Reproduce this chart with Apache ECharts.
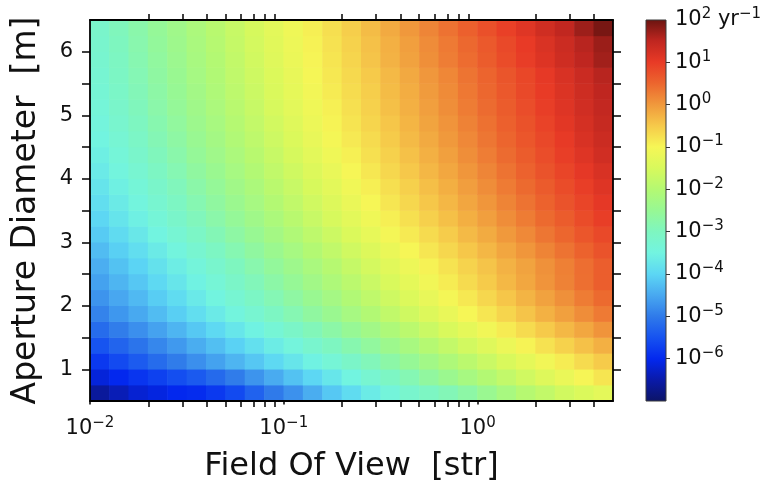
<!DOCTYPE html>
<html>
<head>
<meta charset="utf-8">
<title>Rate vs field of view and aperture</title>
<script src="https://cdn.jsdelivr.net/npm/echarts@6/dist/echarts.min.js"></script>
<style>
  html, body { margin: 0; padding: 0; background: #ffffff; }
  #chart { width: 769px; height: 481px; }
</style>
</head>
<body>
<div id="chart"></div>
<script>
// Field of view cell centres, log10(str)
const fovExponents = [-1.95, -1.85, -1.75, -1.65, -1.55, -1.45, -1.35, -1.25, -1.15, -1.05,
  -0.95, -0.85, -0.75, -0.65, -0.55, -0.45, -0.35, -0.25, -0.15, -0.05,
  0.05, 0.15, 0.25, 0.35, 0.45, 0.55, 0.65];

// Aperture diameter cell centres, m
const apertures = [0.625, 0.875, 1.125, 1.375, 1.625, 1.875, 2.125, 2.375, 2.625, 2.875,
  3.125, 3.375, 3.625, 3.875, 4.125, 4.375, 4.625, 4.875, 5.125, 5.375,
  5.625, 5.875, 6.125, 6.375];

// log10(rate / yr^-1), one row per aperture, one column per field of view
const rateExponents = [
  [-6.60,-6.40,-6.20,-6.10,-6.00,-5.95,-5.80,-5.60,-5.30,-5.00,-4.75,-4.45,-4.15,-3.90,-3.65,-3.40,-3.20,-3.05,-2.90,-2.70,-2.45,-2.20,-1.97,-1.80,-1.60,-1.45,-1.30],
  [-6.15,-6.00,-5.85,-5.70,-5.55,-5.40,-5.20,-4.98,-4.72,-4.47,-4.22,-3.98,-3.74,-3.50,-3.27,-3.06,-2.86,-2.63,-2.43,-2.22,-2.02,-1.81,-1.61,-1.40,-1.20,-0.99,-0.81],
  [-5.80,-5.59,-5.39,-5.18,-4.98,-4.77,-4.57,-4.36,-4.16,-3.95,-3.75,-3.54,-3.34,-3.13,-2.93,-2.72,-2.52,-2.31,-2.11,-1.90,-1.70,-1.49,-1.29,-1.08,-0.89,-0.70,-0.52],
  [-5.48,-5.27,-5.07,-4.86,-4.66,-4.45,-4.25,-4.04,-3.84,-3.63,-3.43,-3.22,-3.02,-2.81,-2.61,-2.40,-2.20,-1.99,-1.79,-1.58,-1.38,-1.17,-0.97,-0.78,-0.60,-0.42,-0.24],
  [-5.18,-4.97,-4.77,-4.56,-4.36,-4.15,-3.95,-3.74,-3.54,-3.33,-3.13,-2.92,-2.72,-2.51,-2.31,-2.10,-1.90,-1.69,-1.49,-1.28,-1.08,-0.88,-0.70,-0.51,-0.33,-0.15,0.04],
  [-4.90,-4.69,-4.49,-4.28,-4.08,-3.87,-3.67,-3.46,-3.26,-3.05,-2.85,-2.64,-2.44,-2.23,-2.03,-1.82,-1.62,-1.41,-1.21,-1.00,-0.82,-0.63,-0.45,-0.26,-0.08,0.11,0.29],
  [-4.72,-4.51,-4.31,-4.10,-3.90,-3.69,-3.49,-3.28,-3.08,-2.87,-2.67,-2.46,-2.26,-2.05,-1.85,-1.64,-1.44,-1.23,-1.03,-0.84,-0.66,-0.47,-0.29,-0.10,0.08,0.27,0.45],
  [-4.57,-4.36,-4.16,-3.95,-3.75,-3.54,-3.34,-3.13,-2.93,-2.72,-2.52,-2.31,-2.11,-1.90,-1.70,-1.49,-1.29,-1.08,-0.89,-0.70,-0.52,-0.33,-0.15,0.04,0.22,0.40,0.58],
  [-4.43,-4.22,-4.02,-3.81,-3.61,-3.40,-3.20,-2.99,-2.79,-2.58,-2.38,-2.17,-1.97,-1.76,-1.56,-1.35,-1.15,-0.95,-0.79,-0.61,-0.45,-0.27,-0.11,0.07,0.24,0.41,0.58],
  [-4.28,-4.07,-3.87,-3.66,-3.46,-3.25,-3.05,-2.84,-2.64,-2.43,-2.23,-2.02,-1.82,-1.61,-1.41,-1.20,-1.00,-0.82,-0.66,-0.48,-0.32,-0.14,0.02,0.20,0.36,0.54,0.71],
  [-4.12,-3.91,-3.71,-3.50,-3.30,-3.09,-2.89,-2.68,-2.48,-2.27,-2.07,-1.86,-1.66,-1.45,-1.25,-1.04,-0.87,-0.70,-0.53,-0.35,-0.19,-0.01,0.15,0.33,0.49,0.67,0.83],
  [-3.98,-3.77,-3.57,-3.36,-3.16,-2.95,-2.75,-2.54,-2.34,-2.13,-1.93,-1.72,-1.52,-1.31,-1.11,-0.92,-0.75,-0.58,-0.41,-0.23,-0.07,0.11,0.27,0.45,0.61,0.79,0.95],
  [-3.87,-3.66,-3.46,-3.25,-3.05,-2.84,-2.64,-2.43,-2.23,-2.02,-1.82,-1.61,-1.41,-1.20,-1.00,-0.82,-0.66,-0.48,-0.32,-0.14,0.02,0.20,0.36,0.54,0.71,0.87,1.04],
  [-3.77,-3.56,-3.36,-3.15,-2.95,-2.74,-2.54,-2.33,-2.13,-1.92,-1.72,-1.51,-1.31,-1.10,-0.92,-0.74,-0.58,-0.40,-0.23,-0.06,0.11,0.28,0.45,0.62,0.79,0.95,1.12],
  [-3.67,-3.46,-3.26,-3.05,-2.85,-2.64,-2.44,-2.23,-2.03,-1.82,-1.62,-1.41,-1.21,-1.00,-0.83,-0.66,-0.49,-0.32,-0.15,0.02,0.19,0.36,0.53,0.71,0.87,1.04,1.20],
  [-3.58,-3.37,-3.17,-2.96,-2.76,-2.55,-2.35,-2.14,-1.94,-1.73,-1.53,-1.32,-1.12,-0.93,-0.76,-0.59,-0.42,-0.24,-0.08,0.10,0.26,0.44,0.60,0.78,0.95,1.12,1.29],
  [-3.50,-3.29,-3.09,-2.88,-2.68,-2.47,-2.27,-2.06,-1.86,-1.65,-1.45,-1.24,-1.04,-0.86,-0.70,-0.52,-0.35,-0.18,-0.01,0.16,0.33,0.50,0.67,0.84,1.01,1.19,1.35],
  [-3.43,-3.22,-3.02,-2.81,-2.61,-2.40,-2.20,-1.99,-1.79,-1.58,-1.38,-1.17,-0.97,-0.80,-0.63,-0.47,-0.30,-0.12,0.04,0.22,0.38,0.56,0.72,0.90,1.07,1.24,1.41],
  [-3.37,-3.16,-2.96,-2.75,-2.55,-2.34,-2.14,-1.93,-1.73,-1.52,-1.32,-1.11,-0.93,-0.75,-0.59,-0.41,-0.24,-0.07,0.10,0.27,0.44,0.61,0.78,0.95,1.12,1.29,1.45],
  [-3.32,-3.11,-2.91,-2.70,-2.50,-2.29,-2.09,-1.88,-1.68,-1.47,-1.27,-1.06,-0.88,-0.71,-0.55,-0.37,-0.21,-0.03,0.13,0.31,0.48,0.65,0.82,0.99,1.16,1.33,1.50],
  [-3.28,-3.07,-2.87,-2.66,-2.46,-2.25,-2.05,-1.84,-1.64,-1.43,-1.23,-1.02,-0.85,-0.68,-0.51,-0.34,-0.17,0.01,0.17,0.35,0.51,0.69,0.85,1.03,1.19,1.37,1.54],
  [-3.24,-3.03,-2.83,-2.62,-2.42,-2.21,-2.01,-1.80,-1.60,-1.39,-1.19,-0.98,-0.81,-0.63,-0.45,-0.27,-0.10,0.09,0.26,0.43,0.60,0.79,0.96,1.14,1.32,1.50,1.67],
  [-3.20,-2.99,-2.79,-2.58,-2.38,-2.17,-1.97,-1.76,-1.56,-1.35,-1.15,-0.95,-0.78,-0.60,-0.42,-0.24,-0.07,0.12,0.29,0.47,0.64,0.83,1.00,1.18,1.35,1.54,1.71],
  [-3.17,-2.96,-2.76,-2.55,-2.35,-2.14,-1.94,-1.73,-1.53,-1.32,-1.12,-0.92,-0.74,-0.55,-0.37,-0.18,0.00,0.19,0.37,0.56,0.74,0.93,1.11,1.30,1.48,1.70,1.92]
];

// Axis ticks
const fovRange = [0.01, 5];
const fovMajorTicks = [0.01, 0.1, 1];
const fovMinorTicks = [0.02, 0.03, 0.04, 0.05, 0.06, 0.07, 0.08, 0.09,
  0.2, 0.3, 0.4, 0.5, 0.6, 0.7, 0.8, 0.9, 2, 3, 4];
const apertureRange = [0.5, 6.5];
const apertureLabels = [1, 2, 3, 4, 5, 6];
const apertureTicks = [1, 1.5, 2, 2.5, 3, 3.5, 4, 4.5, 5, 5.5, 6];
const rateRange = [-7, 2];
const rateLabels = [-6, -5, -4, -3, -2, -1, 0, 1, 2];
const rateTicks = [-6, -5, -4, -3, -2, -1, 0, 1];

// Colour scale, from 10^-7 to 10^2 in half-decade steps
const rateColors = ['#0c1466', '#0a1aa8', '#0328ee', '#1652f0', '#2f7aea', '#48a8f0',
  '#5cd6f4', '#72f4e0', '#7ef6c0', '#97f894', '#b4f972', '#d8f95c', '#f6f656',
  '#f6c94a', '#f0983c', '#ec652e', '#e83a26', '#bf2620', '#6a1410'];

const FONT = 'DejaVu Sans';
const INK = '#111111';
const MINUS = '\u2212';

function expText(n) { return n < 0 ? MINUS + Math.abs(n) : String(n); }
function powLabel(n) { return '{b|10}{s|' + expText(n) + '}'; }

const powRich = {
  b: { fontFamily: FONT, fontSize: 21, lineHeight: 26, color: INK },
  s: { fontFamily: FONT, fontSize: 15, lineHeight: 20, verticalAlign: 'top', color: INK }
};

// Cell edges halfway between neighbouring centres
function cellEdges(centres) {
  return centres.map(function (c, i) {
    const prev = i > 0 ? centres[i - 1] : 2 * c - centres[i + 1];
    const next = i < centres.length - 1 ? centres[i + 1] : 2 * c - centres[i - 1];
    return [(prev + c) / 2, (c + next) / 2];
  });
}

const fovEdges = cellEdges(fovExponents);
const apertureEdges = cellEdges(apertures);
const cells = [];
rateExponents.forEach(function (row, r) {
  row.forEach(function (v, c) {
    cells.push([fovEdges[c][0], fovEdges[c][1], apertureEdges[r][0], apertureEdges[r][1], v]);
  });
});

function renderCell(params, api) {
  const lo = api.coord([api.value(0), api.value(2)]);
  const hi = api.coord([api.value(1), api.value(3)]);
  const cs = params.coordSys;
  const shape = echarts.graphic.clipRectByRect(
    { x: lo[0] - 0.3, y: hi[1] - 0.3, width: hi[0] - lo[0] + 0.6, height: lo[1] - hi[1] + 0.6 },
    { x: cs.x, y: cs.y, width: cs.width, height: cs.height }
  );
  return shape && { type: 'rect', shape: shape, style: { fill: api.visual('color') } };
}

function renderColorbar(params, api) {
  const cs = params.coordSys;
  const stops = rateColors.map(function (c, i) {
    return { offset: i / (rateColors.length - 1), color: c };
  });
  return {
    type: 'rect',
    shape: { x: cs.x, y: cs.y, width: cs.width, height: cs.height },
    style: {
      fill: new echarts.graphic.LinearGradient(0, 1, 0, 0, stops),
      stroke: '#3a3a3a',
      lineWidth: 1
    }
  };
}

const log10 = function (v) { return Math.log10(v); };
const frameLine = { show: true, onZero: false, lineStyle: { color: '#000', width: 1.8 } };

const option = {
  backgroundColor: '#ffffff',
  animation: false,
  grid: [
    { left: 90, top: 20, width: 523, height: 381, outerBoundsMode: 'none' },
    { left: 646, top: 20, width: 20, height: 381, outerBoundsMode: 'none' }
  ],
  xAxis: [
    { // bottom: decade labels
      type: 'value', gridIndex: 0, position: 'bottom', z: 5,
      min: log10(fovRange[0]), max: log10(fovRange[1]),
      axisLine: frameLine,
      axisTick: { show: true, customValues: fovMajorTicks.map(log10), length: 3.5,
        lineStyle: { color: '#000', width: 1.5 } },
      axisLabel: { show: true, customValues: fovMajorTicks.map(log10), margin: 15,
        formatter: function (v) { return powLabel(Math.round(v)); }, rich: powRich },
      splitLine: { show: false },
      name: 'Field Of View  [str]', nameLocation: 'middle', nameGap: 49,
      nameTextStyle: { fontFamily: FONT, fontSize: 32, color: INK, lineHeight: 34 }
    },
    { // bottom: minor ticks
      type: 'value', gridIndex: 0, position: 'bottom', z: 5,
      min: log10(fovRange[0]), max: log10(fovRange[1]),
      axisLine: { show: false, onZero: false },
      axisTick: { show: true, customValues: fovMinorTicks.map(log10), length: 6,
        lineStyle: { color: '#000', width: 1.5 } },
      axisLabel: { show: false },
      splitLine: { show: false }
    },
    { // top frame with minor ticks
      type: 'value', gridIndex: 0, position: 'top', z: 5,
      min: log10(fovRange[0]), max: log10(fovRange[1]),
      axisLine: frameLine,
      axisTick: { show: true, customValues: fovMinorTicks.map(log10), length: 6,
        lineStyle: { color: '#000', width: 1.5 } },
      axisLabel: { show: false },
      splitLine: { show: false }
    },
    { // colour bar
      type: 'value', gridIndex: 1, min: 0, max: 1, show: false
    }
  ],
  yAxis: [
    {
      type: 'value', gridIndex: 0, position: 'left', z: 5,
      min: apertureRange[0], max: apertureRange[1],
      axisLine: frameLine,
      axisTick: { show: true, customValues: apertureTicks, length: 8,
        lineStyle: { color: '#000', width: 1.5 } },
      axisLabel: { show: true, customValues: apertureLabels, margin: 17,
        fontFamily: FONT, fontSize: 21, color: INK },
      splitLine: { show: false },
      name: 'Aperture Diameter  [m]', nameLocation: 'middle', nameGap: 46,
      nameTextStyle: { fontFamily: FONT, fontSize: 33, color: INK, lineHeight: 36 }
    },
    {
      type: 'value', gridIndex: 0, position: 'right', z: 5,
      min: apertureRange[0], max: apertureRange[1],
      axisLine: frameLine,
      axisTick: { show: true, customValues: apertureTicks, length: 8,
        lineStyle: { color: '#000', width: 1.5 } },
      axisLabel: { show: false },
      splitLine: { show: false }
    },
    {
      type: 'value', gridIndex: 1, position: 'right', z: 5,
      min: rateRange[0], max: rateRange[1],
      axisLine: { show: false, onZero: false },
      axisTick: { show: true, customValues: rateTicks, length: 4,
        lineStyle: { color: '#333', width: 1 } },
      axisLabel: { show: true, customValues: rateLabels, margin: 9,
        formatter: function (v) {
          const n = Math.round(v);
          return n === rateRange[1] ? powLabel(n) + '{b| yr}{s|' + MINUS + '1}' : powLabel(n);
        },
        rich: powRich },
      splitLine: { show: false }
    }
  ],
  visualMap: {
    type: 'continuous', show: false, seriesIndex: 0, dimension: 4,
    min: rateRange[0], max: rateRange[1],
    inRange: { color: rateColors }
  },
  series: [
    {
      type: 'custom', name: 'rate', xAxisIndex: 0, yAxisIndex: 0,
      renderItem: renderCell, data: cells,
      encode: { x: [0, 1], y: [2, 3] }, silent: true
    },
    {
      type: 'custom', name: 'colour bar', xAxisIndex: 3, yAxisIndex: 2,
      renderItem: renderColorbar, data: [[0, 1, rateRange[0], rateRange[1]]],
      encode: { x: [0, 1], y: [2, 3] }, silent: true
    }
  ]
};

const chart = echarts.init(document.getElementById('chart'), null, { renderer: 'canvas', width: 769, height: 481 });
chart.setOption(option);
</script>
</body>
</html>
